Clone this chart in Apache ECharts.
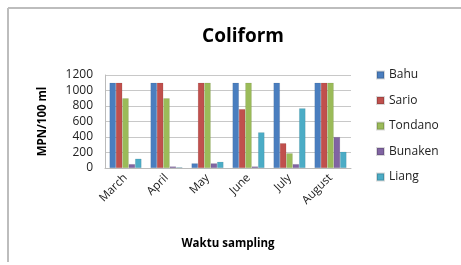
<!DOCTYPE html>
<html><head><meta charset="utf-8">
<script src="https://cdn.jsdelivr.net/npm/echarts@6/dist/echarts.min.js"></script>
<style>html,body{margin:0;padding:0;background:#fff}#c{width:461px;height:265px}</style>
</head><body><div id="c"></div>
<script>
const categories = ['March','April','May','June','July','August'];
const seriesNames = ['Bahu','Sario','Tondano','Bunaken','Liang'];
const bahu    = [1100, 1100, 60, 1100, 1100, 1100];
const sario   = [1100, 1100, 1100, 760, 320, 1100];
const tondano = [900, 900, 1100, 1100, 190, 1100];
const bunaken = [50, 20, 60, 20, 50, 400];
const liang   = [120, 10, 80, 460, 770, 210];
const yTicks = [0, 200, 400, 600, 800, 1000, 1200];
const colors = ['#4a7ebf','#c0504d','#9bbb59','#8064a2','#4bacc6'];
const values = [bahu, sario, tondano, bunaken, liang];
const font = '"Open Sans", "Liberation Sans", sans-serif';

const chart = echarts.init(document.getElementById('c'));
chart.setOption({
  animation: false,
  color: colors,
  title: { text: 'Coliform', left: 238, top: 22, textAlign: 'center',
    textStyle: { fontSize: 19, fontWeight: 'bold', color: '#000', fontFamily: font } },
  legend: { orient: 'vertical', left: 371, top: 64, itemGap: 13.5, itemWidth: 7, itemHeight: 7,
    icon: 'rect', data: seriesNames,
    textStyle: { fontSize: 12, color: '#222', fontFamily: font } },
  grid: { left: 105, right: 110, top: 75, bottom: 97 },
  xAxis: { type: 'category', data: categories,
    name: 'Waktu sampling', nameLocation: 'middle', nameGap: 70,
    nameTextStyle: { fontSize: 11.5, fontWeight: 'bold', color: '#000', fontFamily: font },
    axisLine: { lineStyle: { color: '#bbb' } }, axisTick: { show: false },
    axisLabel: { rotate: 45, fontSize: 11.5, color: '#222', fontFamily: font, margin: 8, interval: 0 } },
  yAxis: { type: 'value', min: yTicks[0], max: yTicks[yTicks.length-1], interval: 200,
    name: 'MPN/100 ml', nameLocation: 'middle', nameGap: 56,
    nameTextStyle: { fontSize: 11.5, fontWeight: 'bold', color: '#000', fontFamily: font },
    axisLine: { show: true, lineStyle: { color: '#bbb' } },
    splitLine: { lineStyle: { color: '#c8c8c8' } },
    axisLabel: { fontSize: 12, color: '#222', fontFamily: font, margin: 12, formatter: v => String(v) } },
  series: seriesNames.map((n, i) => ({
    name: n, type: 'bar', data: values[i], barGap: '0%', barCategoryGap: '22%',
    itemStyle: { color: colors[i], borderColor: 'rgba(0,0,0,0.15)', borderWidth: 0.5 }
  })),
  graphic: [
    { type: 'line', shape: { x1: 8, y1: 8, x2: 461, y2: 8 }, style: { stroke: '#bdbdbd', lineWidth: 2 } },
    { type: 'line', shape: { x1: 8, y1: 8, x2: 8, y2: 262 }, style: { stroke: '#bdbdbd', lineWidth: 2 } }
  ]
});
</script></body></html>
